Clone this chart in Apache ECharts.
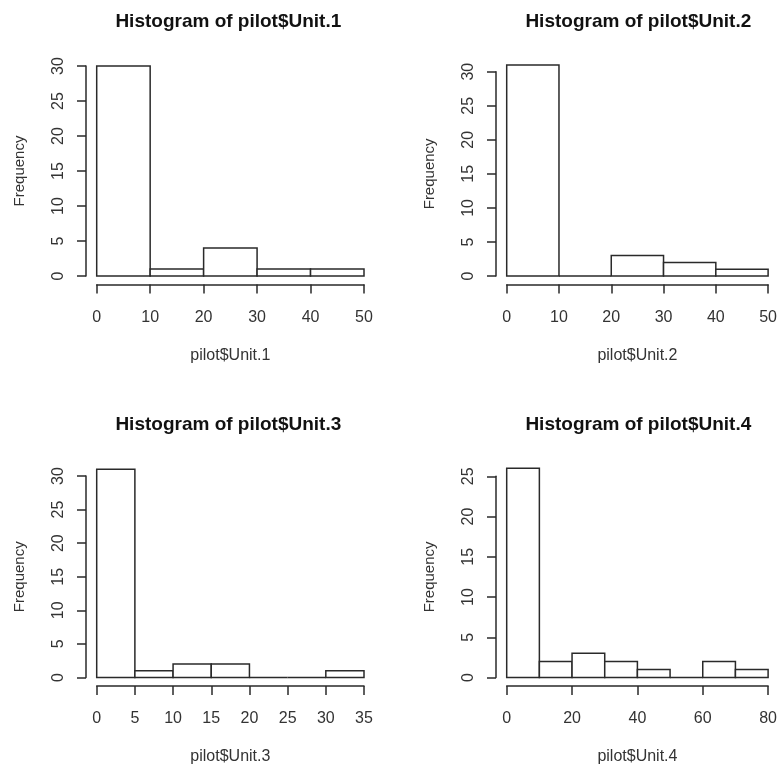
<!DOCTYPE html>
<html>
<head>
<meta charset="utf-8">
<script src="https://cdn.jsdelivr.net/npm/echarts@6/dist/echarts.min.js"></script>
<style>
  html, body { margin: 0; padding: 0; background: #fff; }
  #chart { width: 780px; height: 766px; }
</style>
</head>
<body>
<div id="chart"></div>
<script>
// Bin edges and counts for each unit's histogram
const breaks1 = [0, 10, 20, 30, 40, 50];
const counts1 = [30, 1, 4, 1, 1];
const breaks2 = [0, 10, 20, 30, 40, 50];
const counts2 = [31, 0, 3, 2, 1];
const breaks3 = [0, 5, 10, 15, 20, 25, 30, 35];
const counts3 = [31, 1, 2, 2, 0, 0, 1];
const breaks4 = [0, 10, 20, 30, 40, 50, 60, 70, 80];
const counts4 = [26, 2, 3, 2, 1, 0, 2, 1];

// Axis tick settings per panel
const xTickStep = [10, 10, 5, 20];
const yTickMax = [30, 30, 30, 25];
const yTickStep = [5, 5, 5, 5];

const titles = ['Histogram of pilot$Unit.1', 'Histogram of pilot$Unit.2',
                'Histogram of pilot$Unit.3', 'Histogram of pilot$Unit.4'];
const xNames = ['pilot$Unit.1', 'pilot$Unit.2', 'pilot$Unit.3', 'pilot$Unit.4'];
const yName = 'Frequency';

const allBreaks = [breaks1, breaks2, breaks3, breaks4];
const allCounts = [counts1, counts2, counts3, counts4];

// Plot rectangles (left, right, top, bottom in px) for the 2x2 layout
const W = 780, H = 766;
const boxes = [
  { l: 96.7, r: 364, t: 66, b: 276 },
  { l: 506.7, r: 774, t: 71.7, b: 276 },
  { l: 96.7, r: 364, t: 476, b: 678 },
  { l: 506.7, r: 774, t: 476.3, b: 678 }
];

const FONT = 'Liberation Sans, Arial, sans-serif';
const INK = '#2a2a2a';

const grids = [], xAxes = [], yAxes = [], series = [], titleOpts = [];

boxes.forEach(function (b, i) {
  const br = allBreaks[i];
  const xMax = br[br.length - 1];
  grids.push({ left: b.l, right: W - b.r, top: b.t, bottom: H - b.b, containLabel: false });

  // Axes sit detached from the plot area, as in base R graphics
  xAxes.push({
    gridIndex: i, type: 'value', min: br[0], max: xMax, interval: xTickStep[i],
    offset: 8.5,
    axisLine: { show: true, onZero: false, lineStyle: { color: INK, width: 1.5 } },
    axisTick: { show: true, length: 9, lineStyle: { color: INK, width: 1.5 } },
    axisLabel: { color: '#333', fontFamily: FONT, fontSize: 16, margin: 25, showMaxLabel: true, showMinLabel: true },
    splitLine: { show: false },
    name: xNames[i], nameLocation: 'middle', nameGap: 63,
    nameTextStyle: { color: '#333', fontFamily: FONT, fontSize: 16 }
  });

  yAxes.push({
    gridIndex: i, type: 'value', min: 0, max: yTickMax[i], interval: yTickStep[i],
    offset: 10.7,
    axisLine: { show: true, onZero: false, lineStyle: { color: INK, width: 1.5 } },
    axisTick: { show: true, length: 9, lineStyle: { color: INK, width: 1.5 } },
    axisLabel: { color: '#333', fontFamily: FONT, fontSize: 16, margin: 19.5, rotate: 90, showMaxLabel: true },
    splitLine: { show: false },
    name: yName, nameLocation: 'middle', nameRotate: 90, nameGap: 58.5,
    nameTextStyle: { color: '#333', fontFamily: FONT, fontSize: 15 }
  });

  // Each bin becomes [start, end, count]
  const bins = allCounts[i].map(function (c, k) { return [br[k], br[k + 1], c]; });

  series.push({
    type: 'custom', xAxisIndex: i, yAxisIndex: i, clip: false,
    data: bins,
    encode: { x: [0, 1], y: 2 },
    renderItem: function (params, api) {
      const p0 = api.coord([api.value(0), api.value(2)]);
      const p1 = api.coord([api.value(1), 0]);
      return {
        type: 'rect',
        shape: { x: p0[0], y: p0[1], width: p1[0] - p0[0], height: p1[1] - p0[1] },
        style: { fill: '#fff', stroke: INK, lineWidth: 1.5 }
      };
    }
  });

  titleOpts.push({
    text: titles[i], left: (b.l + b.r) / 2 - 7, textAlign: 'center',
    top: i < 2 ? 7 : 410,
    textStyle: { fontFamily: FONT, fontSize: 19, fontWeight: 'bold', color: '#111' }
  });
});

const chart = echarts.init(document.getElementById('chart'), null, { renderer: 'canvas' });
chart.setOption({
  animation: false,
  backgroundColor: '#fff',
  title: titleOpts,
  grid: grids,
  xAxis: xAxes,
  yAxis: yAxes,
  series: series
});
</script>
</body>
</html>
